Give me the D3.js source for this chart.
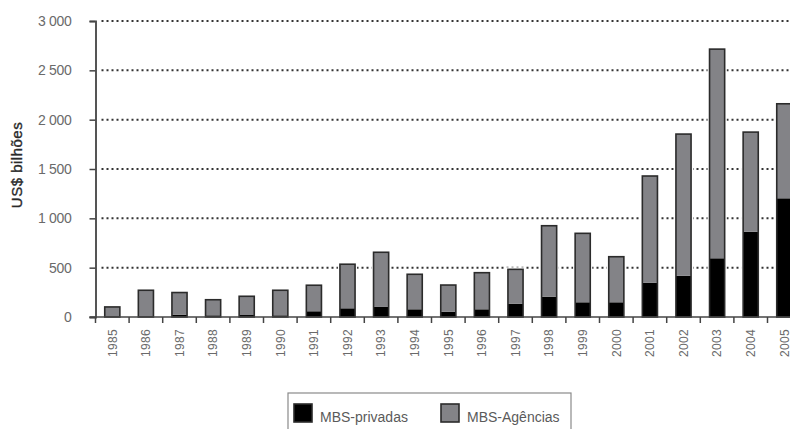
<!DOCTYPE html>
<html>
<head>
<meta charset="utf-8">
<script src="https://cdn.jsdelivr.net/npm/d3@7"></script>
<style>
  html, body { margin: 0; padding: 0; background: #fff; }
  svg { display: block; font-family: "Liberation Sans", Arial, sans-serif; }
</style>
</head>
<body>
<svg id="chart" width="790" height="429"></svg>
<script>
// Emissões de MBS nos EUA, US$ bilhões
const years = ["1985","1986","1987","1988","1989","1990","1991","1992","1993","1994","1995",
               "1996","1997","1998","1999","2000","2001","2002","2003","2004","2005"];
// totais (privadas + agências)
const totals = [102, 271, 248, 175, 210, 271, 322, 535, 656, 433, 324,
                449, 483, 925, 848, 611, 1429, 1854, 2715, 1874, 2161];
// parcela das MBS privadas
const privadas = [4, 6, 24, 17, 20, 17, 58, 88, 102, 78, 54,
                  78, 135, 206, 149, 149, 348, 418, 595, 864, 1203];
const agencias = totals.map((t, i) => t - privadas[i]);

const yTicks = [0, 500, 1000, 1500, 2000, 2500, 3000];
const yTickLabels = ["0", "500", "1 000", "1 500", "2 000", "2 500", "3 000"];
const seriesNames = ["MBS-privadas", "MBS-Agências"];
const seriesColors = ["#000000", "#838387"];

const svg = d3.select("#chart");

const x0 = 95.5, step = 33.6;
const x = d3.scaleBand()
  .domain(years)
  .range([x0, x0 + step * years.length])
  .paddingInner(0.55)
  .paddingOuter(0.275);

const y = d3.scaleLinear().domain([0, 3000]).range([317, 21]);

// linhas de grade pontilhadas
svg.append("g")
  .selectAll("line")
  .data(yTicks.filter(d => d > 0))
  .join("line")
  .attr("x1", 101.5)
  .attr("x2", 790)
  .attr("y1", d => y(d))
  .attr("y2", d => y(d))
  .attr("stroke", "#333")
  .attr("stroke-width", 2)
  .attr("stroke-dasharray", "2,3");

// barras empilhadas
const rows = years.map((yr, i) => ({ year: yr, privadas: privadas[i], agencias: agencias[i] }));
const stack = d3.stack().keys(["privadas", "agencias"])(rows);

const bars = svg.append("g");
// halo branco em volta de cada barra
bars.selectAll("rect.halo")
  .data(rows)
  .join("rect")
  .attr("class", "halo")
  .attr("x", d => x(d.year) - 2)
  .attr("width", x.bandwidth() + 4)
  .attr("y", d => y(d.privadas + d.agencias) - 2)
  .attr("height", d => y(0) - y(d.privadas + d.agencias) + 2)
  .attr("fill", "#fff");

stack.forEach((layer, k) => {
  bars.append("g")
    .selectAll("rect")
    .data(layer)
    .join("rect")
    .attr("x", d => x(d.data.year))
    .attr("width", x.bandwidth())
    .attr("y", d => y(d[1]))
    .attr("height", d => y(d[0]) - y(d[1]))
    .attr("fill", seriesColors[k]);
});

// contorno das barras
bars.selectAll("rect.outline")
  .data(rows)
  .join("rect")
  .attr("class", "outline")
  .attr("x", d => x(d.year))
  .attr("width", x.bandwidth())
  .attr("y", d => y(d.privadas + d.agencias))
  .attr("height", d => y(0) - y(d.privadas + d.agencias))
  .attr("fill", "none")
  .attr("stroke", "#2b2b2b")
  .attr("stroke-width", 1.6);

// eixo Y
const yAxis = d3.axisLeft(y)
  .tickValues(yTicks)
  .tickFormat((d, i) => yTickLabels[i])
  .tickSize(6)
  .tickPadding(18);

const gy = svg.append("g")
  .attr("transform", `translate(${x0},0)`)
  .call(yAxis);
gy.select(".domain").attr("stroke", "#555").attr("stroke-width", 2);
gy.selectAll(".tick line").attr("stroke", "#444").attr("stroke-width", 1.5);
gy.selectAll(".tick text")
  .attr("fill", "#6a6a6a")
  .style("font-size", "14px")
  .style("letter-spacing", "-0.3px");

// eixo X
const gx = svg.append("g");
gx.append("line")
  .attr("x1", x0 - 6)
  .attr("x2", 790)
  .attr("y1", y(0))
  .attr("y2", y(0))
  .attr("stroke", "#444")
  .attr("stroke-width", 1.5);

const boundaries = years.map(yr => x(yr) + x.bandwidth() / 2 - x.step() / 2)
  .concat([x(years[years.length - 1]) + x.bandwidth() / 2 + x.step() / 2]);
gx.selectAll("line.tick")
  .data(boundaries)
  .join("line")
  .attr("class", "tick")
  .attr("x1", d => d)
  .attr("x2", d => d)
  .attr("y1", y(0))
  .attr("y2", y(0) + 6)
  .attr("stroke", "#444")
  .attr("stroke-width", 1.5);

gx.selectAll("text")
  .data(years)
  .join("text")
  .attr("transform", d => `translate(${x(d) + x.bandwidth() / 2},329) rotate(-90)`)
  .attr("text-anchor", "end")
  .attr("dy", "0.35em")
  .attr("fill", "#6a6a6a")
  .style("font-size", "12px")
  .style("letter-spacing", "0.3px")
  .text(d => d);

// título do eixo Y
svg.append("text")
  .attr("transform", "translate(17,165) rotate(-90)")
  .attr("text-anchor", "middle")
  .attr("dy", "0.35em")
  .attr("fill", "#2a2a2a")
  .attr("stroke", "#2a2a2a")
  .attr("stroke-width", 0.35)
  .style("font-size", "15px")
  .style("letter-spacing", "0.5px")
  .text("US$ bilhões");

// legenda
const legend = svg.append("g");
legend.append("rect")
  .attr("x", 288)
  .attr("y", 393)
  .attr("width", 283)
  .attr("height", 60)
  .attr("fill", "#fff")
  .attr("stroke", "#8a8a8a")
  .attr("stroke-width", 1.2);

const legendX = [293, 440];
seriesNames.forEach((name, i) => {
  legend.append("rect")
    .attr("x", legendX[i] + 1)
    .attr("y", 404)
    .attr("width", 18)
    .attr("height", 18)
    .attr("fill", seriesColors[i])
    .attr("stroke", "#2b2b2b")
    .attr("stroke-width", 1.6);
  legend.append("text")
    .attr("x", legendX[i] + 27)
    .attr("y", 422)
    .attr("fill", "#5a5a5a")
    .style("font-size", "14px")
    .text(name);
});
</script>
</body>
</html>
